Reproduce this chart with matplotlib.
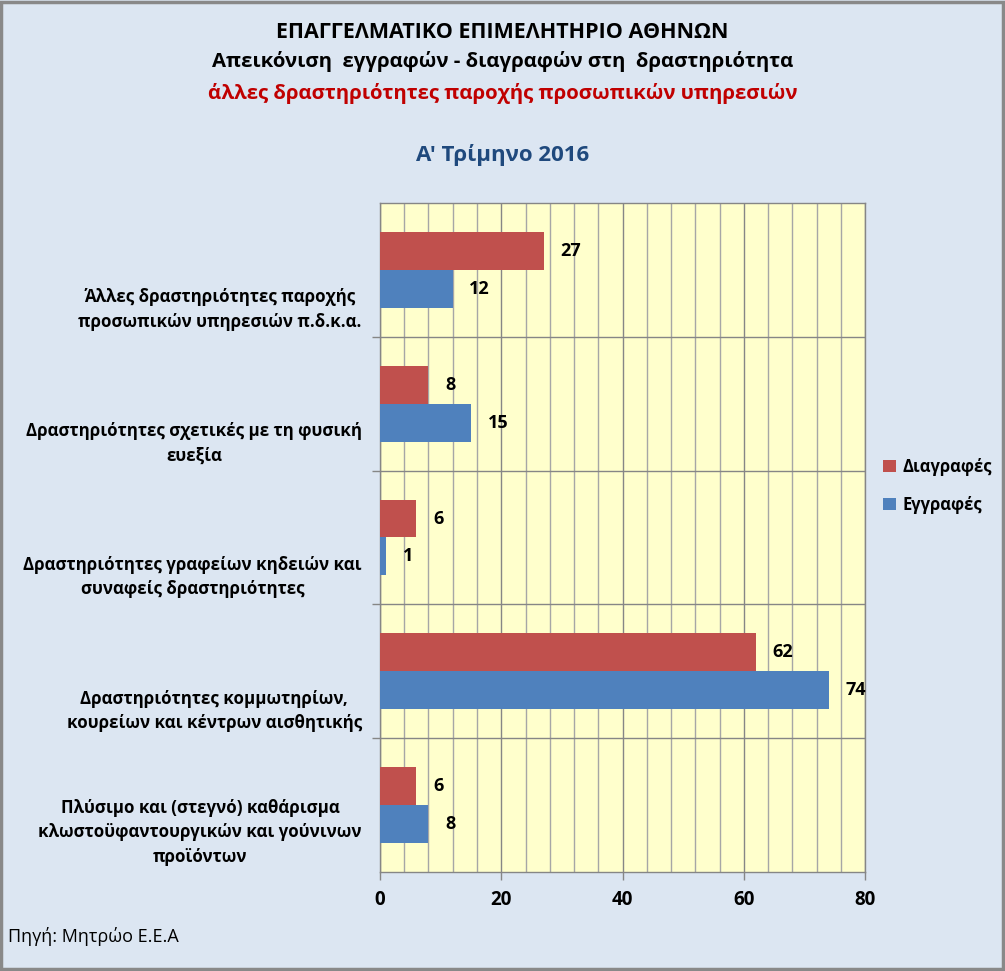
"""
Recreate the EEA chart: registrations vs deletions per activity, Q1 2016.
"""
import matplotlib
matplotlib.use("Agg")
import matplotlib.pyplot as plt
from matplotlib.patches import Rectangle
from matplotlib.ticker import MultipleLocator, FixedLocator, NullFormatter

plt.rcParams["font.family"] = ["Open Sans", "DejaVu Sans"]

categories = [
    "Άλλες δραστηριότητες παροχής\nπροσωπικών υπηρεσιών π.δ.κ.α.",
    "Δραστηριότητες σχετικές με τη φυσική\nευεξία",
    "Δραστηριότητες γραφείων κηδειών και\nσυναφείς δραστηριότητες",
    "Δραστηριότητες κομμωτηρίων,\nκουρείων και κέντρων αισθητικής",
    "Πλύσιμο και (στεγνό) καθάρισμα\nκλωστοϋφαντουργικών και γούνινων\nπροϊόντων",
]
diagrafes = [27, 8, 6, 62, 6]
eggrafes = [12, 15, 1, 74, 8]

RED = "#C0504D"
BLUE = "#4F81BD"
BG = "#DCE6F2"
PLOT_BG = "#FFFFCC"
GRID = "#A6A6A6"
AXIS = "#868686"

fig = plt.figure(figsize=(10.05, 9.71), dpi=100, facecolor=BG)
ax = fig.add_axes([0.378, 0.102, 0.483, 0.689])
ax.set_facecolor(PLOT_BG)

bar_h = 0.283
pos = list(range(len(categories)))
ax.barh([p - bar_h / 2 for p in pos], diagrafes, height=bar_h, color=RED,
        label="Διαγραφές", zorder=3)
ax.barh([p + bar_h / 2 for p in pos], eggrafes, height=bar_h, color=BLUE,
        label="Εγγραφές", zorder=3)

for p, v in zip(pos, diagrafes):
    ax.annotate(str(v), (v, p - bar_h / 2), xytext=(12, 0), textcoords="offset points",
                va="center", ha="left", fontsize=13, fontweight="bold", zorder=4)
for p, v in zip(pos, eggrafes):
    ax.annotate(str(v), (v, p + bar_h / 2), xytext=(12, 0), textcoords="offset points",
                va="center", ha="left", fontsize=13, fontweight="bold", zorder=4)

ax.set_xlim(0, 80)
ax.set_ylim(len(categories) - 0.5, -0.5)

# x axis: major every 20, lighter grid every 4
ax.xaxis.set_major_locator(MultipleLocator(20))
ax.xaxis.set_minor_locator(MultipleLocator(4))
ax.grid(True, axis="x", which="minor", color=GRID, linewidth=1.0, zorder=1)
ax.grid(True, axis="x", which="major", color=AXIS, linewidth=1.0, zorder=1)
ax.tick_params(axis="x", which="major", length=6, width=1, color=AXIS, pad=7,
               labelsize=13.5)
ax.tick_params(axis="x", which="minor", length=0)
for lbl in ax.get_xticklabels():
    lbl.set_fontweight("bold")

# y axis: labels sit low in each band (bottom-anchored), separators at band edges
ax.set_yticks([p + 0.455 for p in pos])
ax.set_yticklabels(categories, fontsize=12.2, fontweight="bold", multialignment="center",
                   linespacing=1.47)
for lbl in ax.get_yticklabels():
    lbl.set_verticalalignment("bottom")
ax.yaxis.set_minor_locator(FixedLocator([p + 0.5 for p in pos[:-1]]))
ax.yaxis.set_minor_formatter(NullFormatter())
ax.grid(True, axis="y", which="minor", color=AXIS, linewidth=1.0, zorder=1)
ax.tick_params(axis="y", which="major", length=0, pad=13)
ax.tick_params(axis="y", which="minor", length=6, width=1, color=AXIS)

for side in ["top", "right", "left", "bottom"]:
    ax.spines[side].set_color(AXIS)
    ax.spines[side].set_linewidth(1.0)

# titles
fig.text(0.5, 1 - 32 / 971, "ΕΠΑΓΓΕΛΜΑΤΙΚΟ ΕΠΙΜΕΛΗΤΗΡΙΟ ΑΘΗΝΩΝ", ha="center", va="center",
         fontsize=15.5, fontweight="bold", color="black")
fig.text(0.5, 1 - 62 / 971, "Απεικόνιση  εγγραφών - διαγραφών στη  δραστηριότητα",
         ha="center", va="center", fontsize=14.7, fontweight="bold", color="black")
fig.text(0.5, 1 - 94 / 971, "άλλες δραστηριότητες παροχής προσωπικών υπηρεσιών",
         ha="center", va="center", fontsize=14.7, fontweight="bold", color="#C00000")
fig.text(0.5, 1 - 155 / 971, "Α' Τρίμηνο 2016", ha="center", va="center",
         fontsize=16, fontweight="bold", color="#1F497D")

fig.text(8 / 1005, 1 - 936 / 971, "Πηγή: Μητρώο Ε.Ε.Α", ha="left", va="center",
         fontsize=13, color="black")

leg = fig.legend(loc="center left", frameon=False, handlelength=0.75, handleheight=0.75,
                 handletextpad=0.4, labelspacing=1.2,
                 prop={"size": 12, "weight": "bold"})
leg.set_bbox_to_anchor((0.864, 1 - 486 / 971), transform=fig.transFigure)

# figure border
fig.patches.append(Rectangle((0.001, 0.002), 0.997, 0.996, transform=fig.transFigure,
                             fill=False, edgecolor="#898989", linewidth=2.5))

fig.savefig("out.png", dpi=100, facecolor=BG)
